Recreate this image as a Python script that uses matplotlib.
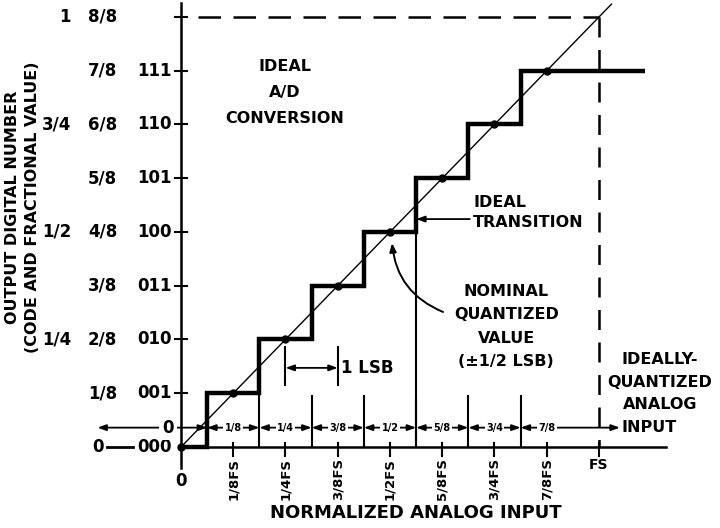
import numpy as np
import matplotlib.pyplot as plt

plt.rcParams['font.family'] = 'DejaVu Sans'
plt.rcParams['font.weight'] = 'bold'

# 3-bit output codes and the fraction of full scale each one stands for
codes = ['000', '001', '010', '011', '100', '101', '110', '111']
eighths = ['1/8', '2/8', '3/8', '4/8', '5/8', '6/8', '7/8', '8/8']
quarters = {2: '1/4', 4: '1/2', 6: '3/4', 8: '1'}
levels = np.arange(8) / 8

# analog inputs where the code steps up (half an LSB before each level)
transitions = (2 * np.arange(1, 8) - 1) / 16
last_edge = 1.11
edges = np.concatenate([[0], transitions, [last_edge]])

input_ticks = np.arange(1, 9) / 8
input_labels = ['1/8FS', '1/4FS', '3/8FS', '1/2FS', '5/8FS', '3/4FS', '7/8FS']
interval_labels = ['1/8', '1/4', '3/8', '1/2', '5/8', '3/4', '7/8']

fig = plt.figure(figsize=(7.2, 5.28), dpi=100)
ax = fig.add_axes([0, 0, 1, 1])
ax.set_xlim(-0.433, 1.2895)
ax.set_ylim(-0.1884, 1.0395)
ax.axis('off')

K = 'black'
big = 11.5

# axes drawn by hand so they cross at the origin
ax.plot([0, 0], [-0.05, 1.033], color=K, lw=1.8)
ax.plot([0, 1.16], [0, 0], color=K, lw=1.8)
for y in np.arange(1, 9) / 8:
    ax.plot([-0.014, 0.014], [y, y], color=K, lw=1.5)
for x in input_ticks:
    ax.plot([x, x], [0.01, -0.02], color=K, lw=1.5)

# full-scale guides and the ideal (unquantized) transfer line
ax.plot([0.04, 1.0], [1, 1], color=K, lw=1.8, dashes=(9, 5))
ax.plot([1, 1], [1, 0], color=K, lw=1.8, dashes=(8, 5))
ax.plot([0, 1.03], [0, 1.03], color=K, lw=1.0)

# quantized staircase and nominal code centres
ax.stairs(levels, edges, color=K, lw=3.2, baseline=None)
ax.plot(levels, levels, 'o', color=K, ms=5)

# transition markers down to the input axis
for t in transitions[1:]:
    ax.plot([t, t], [0, 0.118], color=K, lw=1.5)
ax.plot([transitions[4]] * 2, [0, 0.5], color=K, lw=1.5)

# code labels on the output axis
for k, c in enumerate(codes):
    ax.text(-0.0215, levels[k], c, ha='right', va='center', fontsize=12)
for k, e in enumerate(eighths):
    ax.text(-0.153, (k + 1) / 8, e, ha='right', va='center', fontsize=12)
for k, q in quarters.items():
    ax.text(-0.263, k / 8, q, ha='right', va='center', fontsize=12)
ax.text(-0.199, 0, '0', ha='center', va='center', fontsize=12)
ax.plot([-0.177, -0.115], [0, 0], color=K, lw=2)

ax.text(-0.403, 0.558, 'OUTPUT DIGITAL NUMBER', rotation=90,
        ha='center', va='center', fontsize=11.5)
ax.text(-0.355, 0.558, '(CODE AND FRACTIONAL VALUE)', rotation=90,
        ha='center', va='center', fontsize=11.5)

# input axis labels
for x, lab in zip(input_ticks[:-1], input_labels):
    ax.text(x, -0.026, lab, rotation=90, ha='center', va='top', fontsize=9.5)
ax.text(1.0, -0.026, 'FS', ha='center', va='top', fontsize=10)
ax.text(0, -0.079, '0', ha='center', va='center', fontsize=12)
ax.text(0.561, -0.153, 'NORMALIZED ANALOG INPUT', ha='center', va='center',
        fontsize=13)

# quantization intervals for each code
row_y = 0.045
bounds = np.concatenate([[-0.2], transitions, [1.05]])
arrow = dict(arrowstyle='<|-|>,head_length=0.5,head_width=0.18', color=K,
             lw=1.3, shrinkA=0, shrinkB=0, mutation_scale=10)
for a, b in zip(bounds[:-1], bounds[1:]):
    ax.annotate('', xy=(a, row_y), xytext=(b, row_y), arrowprops=arrow)
for k, lab in enumerate(interval_labels):
    ax.text((k + 1) / 8, row_y, lab, ha='center', va='center', fontsize=7,
            bbox=dict(fc='white', ec='none', pad=1.0))
ax.text(-0.031, row_y, '0', ha='center', va='center', fontsize=12,
        bbox=dict(fc='white', ec='none', pad=2.5))

# one LSB span
ax.plot([0.25, 0.25], [0.144, 0.233], color=K, lw=1.5)
ax.plot([0.375, 0.375], [0.144, 0.233], color=K, lw=1.5)
ax.annotate('', xy=(0.25, 0.184), xytext=(0.375, 0.184), arrowprops=arrow)
ax.text(0.383, 0.184, '1 LSB', ha='left', va='center', fontsize=12)

# annotations
ax.text(0.249, 0.824, 'IDEAL\nA/D\nCONVERSION', ha='center', va='center',
        fontsize=big, linespacing=1.9)
ax.text(0.699, 0.545, 'IDEAL\nTRANSITION', ha='left', va='center',
        fontsize=big, linespacing=1.4)
ax.annotate('', xy=(transitions[4], 0.530), xytext=(0.691, 0.530),
            arrowprops=dict(arrowstyle='-|>,head_length=0.5,head_width=0.18',
                            color=K, lw=1.3, shrinkA=0, shrinkB=0,
                            mutation_scale=10))
ax.text(0.778, 0.28, 'NOMINAL\nQUANTIZED\nVALUE\n(\u00b11/2 LSB)', ha='center',
        va='center', fontsize=big, linespacing=1.7)
ax.annotate('', xy=(0.505, 0.474), xytext=(0.627, 0.314),
            arrowprops=dict(arrowstyle='-|>,head_length=0.5,head_width=0.2',
                            color=K, lw=1.4, shrinkA=0, shrinkB=0,
                            mutation_scale=10,
                            connectionstyle='arc3,rad=-0.3'))
ax.text(1.146, 0.151, 'IDEALLY-\nQUANTIZED\nANALOG', ha='center', va='center',
        fontsize=big, linespacing=1.6)
ax.text(1.055, row_y, 'INPUT', ha='left', va='center', fontsize=big)

fig.savefig('out.png', dpi=100)
